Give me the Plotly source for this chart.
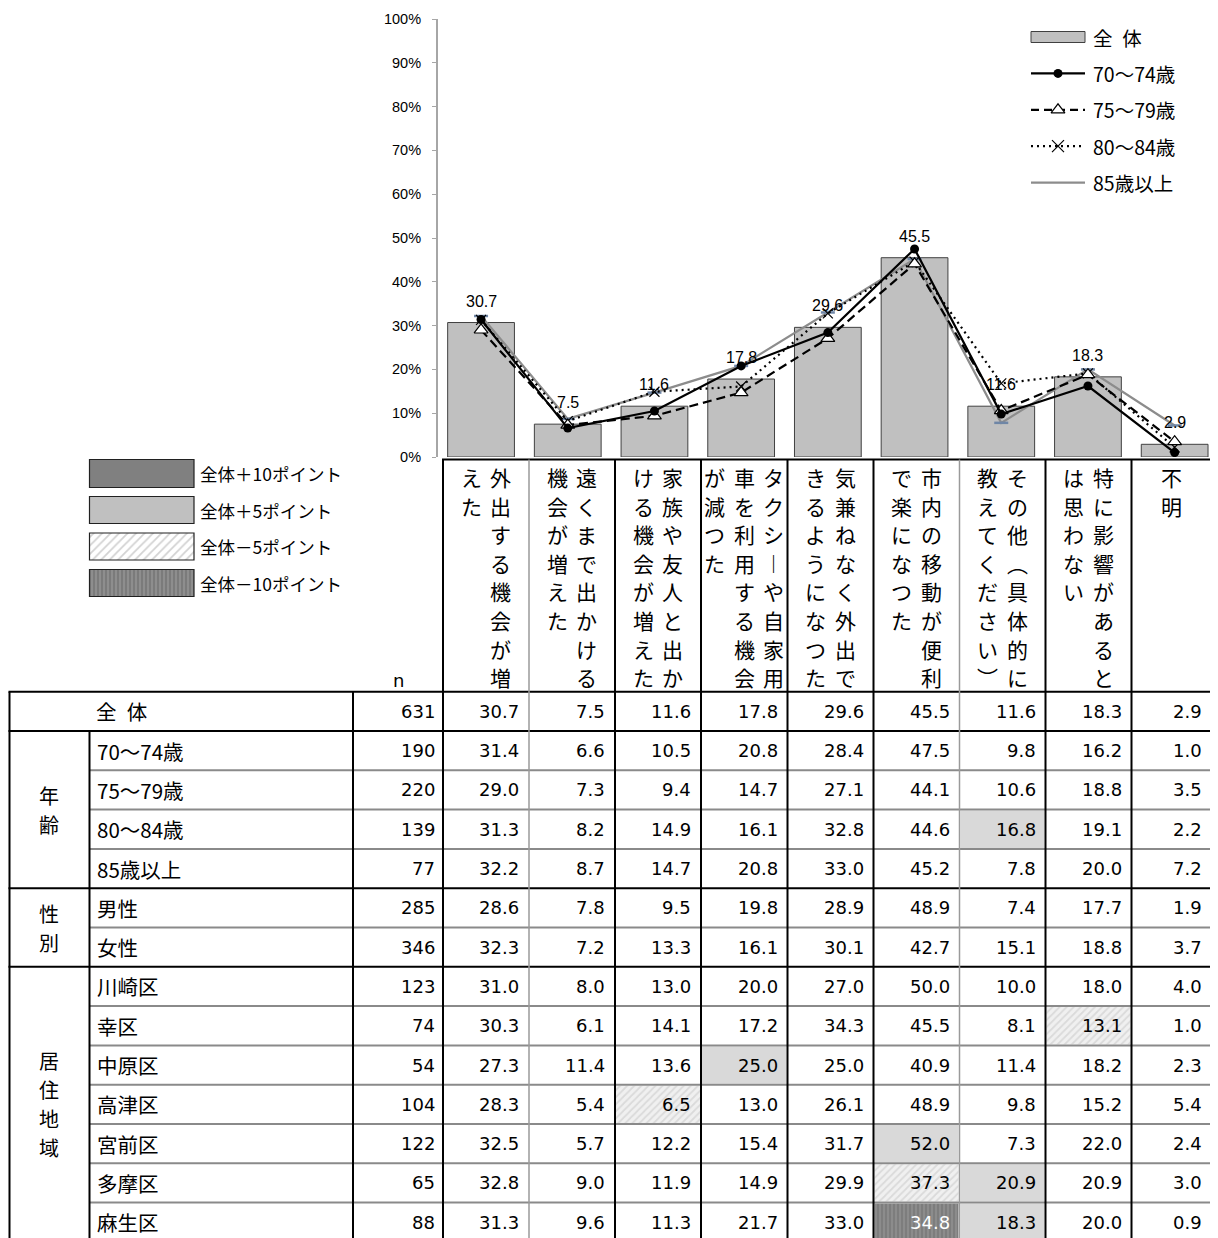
import plotly.graph_objects as go

# ---------------- data ----------------
categories = [
    "外出する機会が増えた",
    "遠くまで出かける機会が増えた",
    "家族や友人と出かける機会が増えた",
    "タクシーや自家用車を利用する機会が減つた",
    "気兼ねなく外出できるようになつた",
    "市内の移動が便利で楽になつた",
    "その他（具体的に教えてください）",
    "特に影響があるとは思わない",
    "不明",
]
row_labels = ["全 体", "70～74歳", "75～79歳", "80～84歳", "85歳以上", "男性", "女性",
              "川崎区", "幸区", "中原区", "高津区", "宮前区", "多摩区", "麻生区"]
group_labels = ["年齢", "性別", "居住地域"]
group_sizes = [4, 2, 7]
n_values = [631, 190, 220, 139, 77, 285, 346, 123, 74, 54, 104, 122, 65, 88]

total     = [30.7, 7.5, 11.6, 17.8, 29.6, 45.5, 11.6, 18.3, 2.9]
age_70_74 = [31.4, 6.6, 10.5, 20.8, 28.4, 47.5, 9.8, 16.2, 1.0]
age_75_79 = [29.0, 7.3, 9.4, 14.7, 27.1, 44.1, 10.6, 18.8, 3.5]
age_80_84 = [31.3, 8.2, 14.9, 16.1, 32.8, 44.6, 16.8, 19.1, 2.2]
age_85_up = [32.2, 8.7, 14.7, 20.8, 33.0, 45.2, 7.8, 20.0, 7.2]
male      = [28.6, 7.8, 9.5, 19.8, 28.9, 48.9, 7.4, 17.7, 1.9]
female    = [32.3, 7.2, 13.3, 16.1, 30.1, 42.7, 15.1, 18.8, 3.7]
kawasaki  = [31.0, 8.0, 13.0, 20.0, 27.0, 50.0, 10.0, 18.0, 4.0]
saiwai    = [30.3, 6.1, 14.1, 17.2, 34.3, 45.5, 8.1, 13.1, 1.0]
nakahara  = [27.3, 11.4, 13.6, 25.0, 25.0, 40.9, 11.4, 18.2, 2.3]
takatsu   = [28.3, 5.4, 6.5, 13.0, 26.1, 48.9, 9.8, 15.2, 5.4]
miyamae   = [32.5, 5.7, 12.2, 15.4, 31.7, 52.0, 7.3, 22.0, 2.4]
tama      = [32.8, 9.0, 11.9, 14.9, 29.9, 37.3, 20.9, 20.9, 3.0]
asao      = [31.3, 9.6, 11.3, 21.7, 33.0, 34.8, 18.3, 20.0, 0.9]

y_tick_values = [0, 10, 20, 30, 40, 50, 60, 70, 80, 90, 100]
y_tick_labels = ["0%", "10%", "20%", "30%", "40%", "50%", "60%", "70%", "80%", "90%", "100%"]
series_names = ["全 体", "70～74歳", "75～79歳", "80～84歳", "85歳以上"]
shade_labels = ["全体＋10ポイント", "全体＋5ポイント", "全体－5ポイント", "全体－10ポイント"]

table_rows = [total, age_70_74, age_75_79, age_80_84, age_85_up, male, female,
              kawasaki, saiwai, nakahara, takatsu, miyamae, tama, asao]

# ---------------- layout constants (screen pixels) ----------------
OFF = 8                      # default page margin around the plot div
SW, SH = 1218, 1238          # window size
W, H = SW - OFF, SH - OFF    # figure size
JP = "Noto Sans CJK JP"
NUM = "DejaVu Sans, Noto Sans CJK JP"

def px_x(X):
    return (X - OFF) / W

def px_y(Y):
    return 1 - (Y - OFF) / H

fig = go.Figure()

# ---------------- chart ----------------
fig.add_trace(go.Bar(
    x=categories, y=total, width=0.77,
    marker=dict(color="#C0C0C0", line=dict(color="#404040", width=1)),
    hoverinfo="skip", showlegend=False))

line_styles = [
    (age_85_up, dict(color="#8C8C8C", width=2.2),
     dict(symbol="line-ew", size=10, line=dict(color="#6F86A6", width=2.5))),
    (age_80_84, dict(color="black", width=2.2, dash="2px,4px"),
     dict(symbol="x-thin", size=10, line=dict(color="black", width=1.2))),
    (age_75_79, dict(color="black", width=2.2, dash="9px,5px"),
     dict(symbol="triangle-up", size=12, color="white", line=dict(color="black", width=1.2))),
    (age_70_74, dict(color="black", width=2.2),
     dict(symbol="circle", size=9, color="black")),
]
for vals, ln, mk in line_styles:
    fig.add_trace(go.Scatter(x=categories, y=vals, mode="lines+markers",
                             line=ln, marker=mk, hoverinfo="skip", showlegend=False))

for c, v in zip(categories, total):
    fig.add_annotation(x=c, y=v, text=f"{v:.1f}", showarrow=False, yanchor="bottom",
                       yshift=11, font=dict(family="Liberation Sans", size=16, color="black"))

# ---------------- overlay pixel axis helpers ----------------
def hline(y, x0, x1, color="black", w=2):
    fig.add_shape(type="line", xref="x2", yref="y2", x0=x0, x1=x1, y0=y, y1=y,
                  line=dict(color=color, width=w), layer="above")

def vline(x, y0, y1, color="black", w=2):
    fig.add_shape(type="line", xref="x2", yref="y2", x0=x, x1=x, y0=y0, y1=y1,
                  line=dict(color=color, width=w), layer="above")

def text(x, y, s, size=20, family=JP, xanchor="center", color="black"):
    fig.add_annotation(xref="x2", yref="y2", x=x, y=y, text=s, showarrow=False,
                       xanchor=xanchor, yanchor="middle",
                       font=dict(family=family, size=size, color=color))

def rect_fill(x0, y0, x1, y1, color, pattern=None):
    fig.add_trace(go.Scatter(
        x=[x0, x1, x1, x0, x0], y=[y0, y0, y1, y1, y0], mode="lines",
        fill="toself", fillcolor=color, fillpattern=pattern,
        line=dict(color="rgba(0,0,0,0)", width=0),
        xaxis="x2", yaxis="y2", hoverinfo="skip", showlegend=False))

SHADES = {
    "p10": dict(color="#808080", pattern=None),
    "p5": dict(color="#D9D9D9", pattern=None),
    "m5": dict(color="#F0F0F0", pattern=dict(shape="/", fgcolor="#C4C4C4", bgcolor="#F0F0F0",
                                            size=5, solidity=0.35)),
    "m10": dict(color="#8A8A8A", pattern=dict(shape="|", fgcolor="#666666", bgcolor="#8C8C8C",
                                             size=4, solidity=0.4)),
}

# ---------------- top-right legend ----------------
LX0, LX1, LXM, LTX = 1031, 1085, 1058, 1091
leg_y = [37, 73.4, 109.8, 146.2, 182.6]
fig.add_shape(type="rect", xref="x2", yref="y2", x0=LX0, x1=LX1, y0=31.5, y1=42.5,
              fillcolor="#C0C0C0", line=dict(color="#404040", width=1), layer="above")
leg_lines = [
    (dict(color="black", width=2.2), dict(symbol="circle", size=9, color="black")),
    (dict(color="black", width=2.2, dash="8px,5px"),
     dict(symbol="triangle-up", size=12, color="white", line=dict(color="black", width=1.2))),
    (dict(color="black", width=2.2, dash="2px,4px"),
     dict(symbol="x-thin", size=12, line=dict(color="black", width=1.2))),
    (dict(color="#8C8C8C", width=2.2), None),
]
for k, (ln, mk) in enumerate(leg_lines):
    yy = leg_y[k + 1]
    fig.add_trace(go.Scatter(x=[LX0, LX1], y=[yy, yy], mode="lines", line=ln,
                             xaxis="x2", yaxis="y2", hoverinfo="skip", showlegend=False))
    if mk:
        fig.add_trace(go.Scatter(x=[LXM], y=[yy], mode="markers", marker=mk,
                                 xaxis="x2", yaxis="y2", hoverinfo="skip", showlegend=False))
for k, name in enumerate(series_names):
    label = name.replace(" ", "\u2002")
    text(LTX, leg_y[k], label, size=19.5, xanchor="left")

# ---------------- shading legend (left) ----------------
box_y = [(459.5, 487.5), (496.5, 523.5), (533, 560), (569.5, 596.5)]
box_styles = [
    ("#808080", None),
    ("#C0C0C0", None),
    ("white", dict(shape="/", fgcolor="#A6A6A6", bgcolor="white", size=6, solidity=0.3)),
    ("#8A8A8A", dict(shape="|", fgcolor="#5E5E5E", bgcolor="#8E8E8E", size=4, solidity=0.4)),
]
for (y0, y1), (col, pat), lab in zip(box_y, box_styles, shade_labels):
    rect_fill(89.5, y0, 194, y1, col, pat)
    fig.add_shape(type="rect", xref="x2", yref="y2", x0=89.5, x1=194, y0=y0, y1=y1,
                  line=dict(color="#202020", width=1.2), layer="above")
    text(197.5, (y0 + y1) / 2, lab, size=17.5, xanchor="left")

# ---------------- table geometry ----------------
TOP = 691.7
ROW_H = 39.3
HDR_TOP = 459.5
X_L, X_G, X_LAB, X_N = 9.5, 89.5, 353, 443
COL_EDGES = [443, 529, 615, 701, 787.5, 873.5, 959.5, 1045.5, 1131.5, 1212]
GRAY_COLS = {1, 6}
BOTTOM = SH + 5
n_rows = len(table_rows)

def row_top(i):
    return TOP + i * ROW_H

# cell shading (relative to overall value)
for i in range(1, n_rows):
    for j, v in enumerate(table_rows[i]):
        d = round(v - total[j], 1)
        key = None
        if d >= 10:
            key = "p10"
        elif d >= 5:
            key = "p5"
        elif d <= -10:
            key = "m10"
        elif d <= -5:
            key = "m5"
        if key:
            s = SHADES[key]
            rect_fill(COL_EDGES[j] + 1, row_top(i) + 1, COL_EDGES[j + 1] - 1, row_top(i + 1) - 1,
                      s["color"], s["pattern"])

# horizontal lines
hline(HDR_TOP, X_N - 1, COL_EDGES[-1] + 1)
hline(TOP, X_L - 1, COL_EDGES[-1] + 1)
group_starts = [1]
for g in group_sizes:
    group_starts.append(group_starts[-1] + g)
for i in range(1, n_rows):
    if i in group_starts:
        hline(row_top(i), X_L - 1, COL_EDGES[-1] + 1)
    else:
        hline(row_top(i), X_G, COL_EDGES[-1] + 1, color="#8A8A8A", w=2)

# vertical lines
vline(X_L, TOP, BOTTOM)
vline(X_G, row_top(1), BOTTOM)
vline(X_LAB, TOP, BOTTOM)
for k, x in enumerate(COL_EDGES):
    if k in GRAY_COLS:
        vline(x, HDR_TOP, BOTTOM, color="#9A9A9A", w=1.5)
    else:
        vline(x, HDR_TOP, BOTTOM)

# header: n and vertical category text
text(398, 680, "n", size=18, family=NUM)
VERT = {"ー": "︱", "（": "︵", "）": "︶"}
CH_TOP, CH_PITCH, COL_PITCH, PER_COL = 477, 28.6, 29.5, 8
for j, cat in enumerate(categories):
    cx = (COL_EDGES[j] + COL_EDGES[j + 1]) / 2
    chunks = [cat[k:k + PER_COL] for k in range(0, len(cat), PER_COL)]
    nc = len(chunks)
    for c, chunk in enumerate(chunks):
        x = cx + (nc - 1) / 2 * COL_PITCH - c * COL_PITCH
        for r, ch in enumerate(chunk):
            text(x, CH_TOP + r * CH_PITCH, VERT.get(ch, ch), size=21)

# group labels (vertical)
for g, (lab, start) in enumerate(zip(group_labels, group_starts[:-1])):
    y_mid = (row_top(start) + row_top(start + group_sizes[g])) / 2
    pitch = 29
    for r, ch in enumerate(lab):
        text(48.5, y_mid + (r - (len(lab) - 1) / 2) * pitch, ch, size=20)

# row labels, n and values
for i in range(n_rows):
    yc = row_top(i) + ROW_H / 2
    lab = row_labels[i].replace(" ", "\u2002")
    text(94 if i == 0 else 95, yc, lab, size=20.5, xanchor="left")
    text(X_N - 6, yc, str(n_values[i]), size=18, family=NUM, xanchor="right")
    for j, v in enumerate(table_rows[i]):
        col = "black"
        if i > 0 and round(v - total[j], 1) <= -10:
            col = "white"
        text(COL_EDGES[j + 1] - 8, yc, f"{v:.1f}", size=18, family=NUM, xanchor="right", color=col)

# ---------------- axes ----------------
fig.update_layout(
    width=W, height=H, autosize=False,
    margin=dict(l=0, r=0, t=0, b=0, pad=0, autoexpand=False),
    paper_bgcolor="white", plot_bgcolor="rgba(0,0,0,0)",
    showlegend=False,
    xaxis=dict(domain=[px_x(437.7), 1.0], range=[-0.5, 8.5], type="category",
               showticklabels=False, showline=False, showgrid=False, zeroline=False,
               ticks="", fixedrange=True, automargin=False),
    yaxis=dict(domain=[px_y(457), px_y(19)], range=[0, 100],
               tickvals=y_tick_values, ticktext=y_tick_labels,
               showline=True, linecolor="#A6A6A6", linewidth=1.5,
               ticks="outside", ticklen=4, tickcolor="#A6A6A6", tickwidth=1.2,
               ticklabelstandoff=8, automargin=False,
               tickfont=dict(family="Liberation Sans", size=14.5, color="black"),
               showgrid=False, zeroline=False, fixedrange=True),
    xaxis2=dict(domain=[0, 1], range=[OFF, OFF + W], visible=False, anchor="y2",
                fixedrange=True, automargin=False),
    yaxis2=dict(domain=[0, 1], range=[OFF + H, OFF], visible=False, anchor="x2",
                fixedrange=True, automargin=False),
)

fig.write_html("out.html")
